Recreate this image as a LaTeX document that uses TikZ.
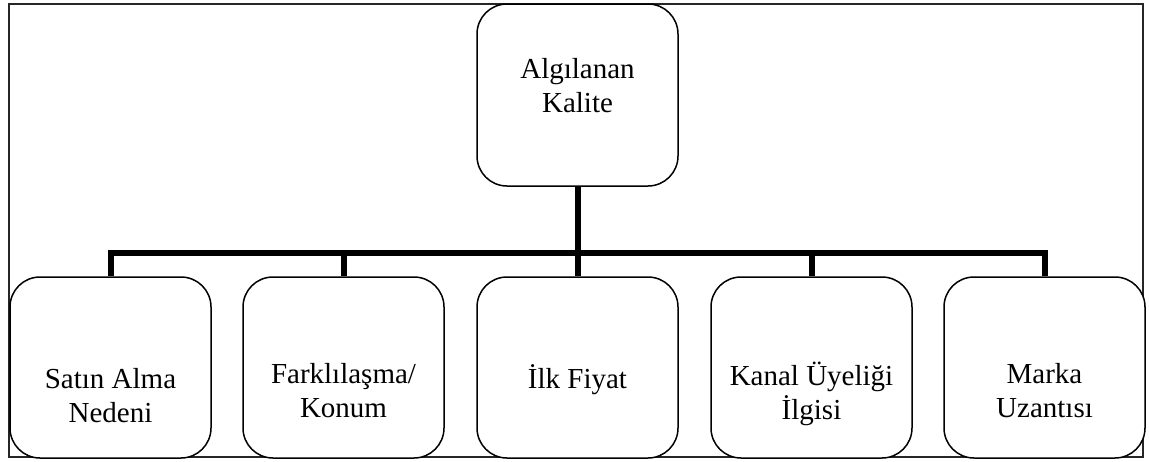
\documentclass[tikz,border=0pt]{standalone}
\usepackage{fontspec}
\setmainfont{Liberation Serif}
\begin{document}
\begin{tikzpicture}[x=1pt,y=-1pt,
  box/.style={draw=black, line width=1.5pt, rounded corners=30pt, fill=white,
    minimum width=201pt, minimum height=181pt, inner sep=0pt},
  lbl/.style={font=\fontsize{29}{34}\selectfont, align=center, anchor=base, inner sep=0pt},
  conn/.style={line width=6pt, line join=miter, draw=black},
  frame/.style={draw=black!85, line width=2pt}]
\useasboundingbox (0,0) rectangle (1149,461);
\draw[frame] (9,4) rectangle (1143,457);
\node[box, minimum height=182pt] (top) at (577.5,95) {};
\node[box] (b1) at (110.5,367.5) {};
\node[box] (b2) at (343.5,367.5) {};
\node[box] (b3) at (577.5,367.5) {};
\node[box] (b4) at (811.5,367.5) {};
\node[box] (b5) at (1044.5,367.5) {};
\coordinate (hub) at (577.5,253);
\draw[conn] (top.south) -- (hub);
\draw[conn] (hub) -| (b1.north);
\draw[conn] (hub) -| (b2.north);
\draw[conn] (hub) -- (b3.north);
\draw[conn] (hub) -| (b4.north);
\draw[conn] (hub) -| (b5.north);
\node[lbl] (t0) at (577.5,112) {Algılanan\\Kalite};
\node[lbl] (t1) at (110.5,422) {Satın Alma\\Nedeni};
\node[lbl] (t2) at (343.5,417) {Farklılaşma/\\Konum};
\node[lbl] (t3) at (577.5,388) {İlk Fiyat};
\node[lbl] (t4) at (811.5,419) {Kanal Üyeliği\\İlgisi};
\node[lbl] (t5) at (1044.5,417) {Marka\\Uzantısı};
\end{tikzpicture}
\end{document}
